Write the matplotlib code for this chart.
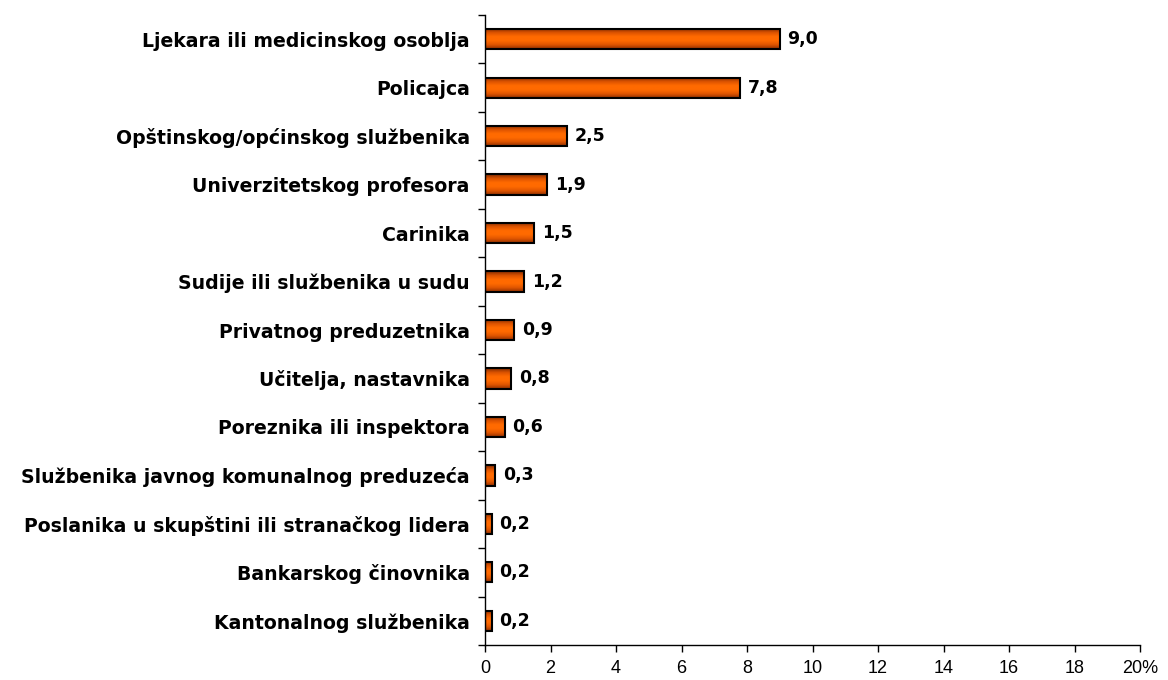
import numpy as np
import matplotlib
matplotlib.use('Agg')
import matplotlib.pyplot as plt
from matplotlib.colors import LinearSegmentedColormap

# categories from top to bottom, percentages
categories = [
    'Ljekara ili medicinskog osoblja',
    'Policajca',
    'Opštinskog/općinskog službenika',
    'Univerzitetskog profesora',
    'Carinika',
    'Sudije ili službenika u sudu',
    'Privatnog preduzetnika',
    'Učitelja, nastavnika',
    'Poreznika ili inspektora',
    'Službenika javnog komunalnog preduzeća',
    'Poslanika u skupštini ili stranačkog lidera',
    'Bankarskog činovnika',
    'Kantonalnog službenika',
]
values = [9.0, 7.8, 2.5, 1.9, 1.5, 1.2, 0.9, 0.8, 0.6, 0.3, 0.2, 0.2, 0.2]
xticks = [0, 2, 4, 6, 8, 10, 12, 14, 16, 18, 20]
xtick_labels = ['0', '2', '4', '6', '8', '10', '12', '14', '16', '18', '20%']

plt.rcParams['font.family'] = ['Liberation Sans', 'DejaVu Sans']
bold_family = ['DejaVu Sans']

fig = plt.figure(figsize=(11.68, 6.8), dpi=100)
ax = fig.add_axes([485 / 1168, 35 / 680, 655 / 1168, 630 / 680])

y = np.arange(len(categories))
bars = ax.barh(y, values, height=0.42, color='none', edgecolor='black',
               linewidth=1.5, zorder=3)

# Excel-style vertical gradient inside each bar
grad = LinearSegmentedColormap.from_list(
    'og', ['#7f2a00', '#d95200', '#ff6a00', '#ff6a00', '#e05500', '#8f3000'])
g = np.linspace(0, 1, 64).reshape(-1, 1)
for b in bars:
    x0, yb = b.get_x(), b.get_y()
    w, h = b.get_width(), b.get_height()
    ax.imshow(g, cmap=grad, aspect='auto', extent=(x0, x0 + w, yb + h, yb),
              zorder=2, interpolation='bilinear')

for yi, v in zip(y, values):
    ax.text(v + 0.24, yi, f'{v:.1f}'.replace('.', ','), va='center', ha='left',
            fontsize=12.5, fontweight='bold', family=bold_family)

ax.set_xlim(0, 20)
ax.set_ylim(len(categories) - 0.5, -0.5)
ax.set_xticks(xticks)
ax.set_xticklabels(xtick_labels, fontsize=13)
ax.set_yticks(y)
ax.set_yticklabels(categories, fontsize=13.6, fontweight='bold', family=bold_family)
ax.set_yticks(np.arange(len(categories) + 1) - 0.5, minor=True)
ax.tick_params(axis='y', which='major', length=0, pad=11)
ax.tick_params(axis='y', which='minor', length=5, width=1)
ax.tick_params(axis='x', length=5, width=1, pad=6)
for s in ['top', 'right']:
    ax.spines[s].set_visible(False)
for s in ['left', 'bottom']:
    ax.spines[s].set_linewidth(1)

fig.savefig('out.png', dpi=100)
